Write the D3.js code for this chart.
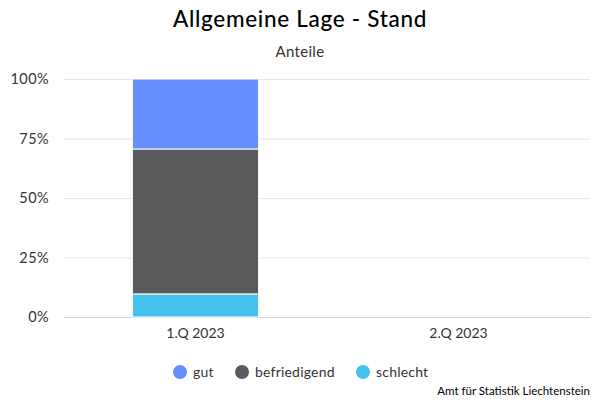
<!DOCTYPE html>
<html><head><meta charset="utf-8">
<script src="https://cdn.jsdelivr.net/npm/d3@7"></script>
<style>body{margin:0;background:#fff}svg{font-family:Lato,sans-serif}</style>
</head><body><svg id="c" width="600" height="400"></svg>
<script>
const categories = ["1.Q 2023", "2.Q 2023"];
const seriesNames = ["gut", "befriedigend", "schlecht"];
const gut = [29.4, null];
const befriedigend = [60.9, null];
const schlecht = [9.7, null];
const yTicks = [0, 25, 50, 75, 100];
const colors = {gut: "#658ffe", befriedigend: "#5a5a5c", schlecht: "#45c3ef"};

const svg = d3.select("#c");
const m = {l: 64, r: 590, t: 79, b: 317};
const x = d3.scaleBand().domain(categories).range([m.l, m.r]).paddingInner(0.52).paddingOuter(0.26);
const y = d3.scaleLinear().domain([0, 100]).range([m.b, m.t]);

svg.append("text").attr("x", 300).attr("y", 27).attr("text-anchor", "middle")
  .attr("font-size", 22.5).attr("font-weight", 500).attr("letter-spacing", 0.7).attr("fill", "#000").text("Allgemeine Lage - Stand");
svg.append("text").attr("x", 300).attr("y", 57).attr("text-anchor", "middle")
  .attr("font-size", 15).attr("letter-spacing", 0.3).attr("fill", "#333").text("Anteile");

const yAxis = d3.axisLeft(y).tickValues(yTicks).tickFormat(d => d + "%").tickSize(-(m.r - m.l));
const ga = svg.append("g").attr("transform", `translate(${m.l},0)`).call(yAxis);
ga.select(".domain").remove();
ga.selectAll(".tick line").attr("stroke", "#e6e6e6");
ga.selectAll(".tick text").attr("x", -15).attr("font-size", 14.5).attr("letter-spacing", 0.4).attr("fill", "#333").attr("font-family", "Lato,sans-serif");
ga.selectAll(".tick").filter(d => d === 0).select("line").attr("stroke", "#ccd6eb");

const xAxis = d3.axisBottom(x).tickSize(0);
const gx = svg.append("g").attr("transform", `translate(0,${m.b})`).call(xAxis);
gx.select(".domain").attr("stroke", "#ccd6eb");
gx.selectAll(".tick text").attr("dy", 0).attr("y", 21).attr("font-size", 14).attr("fill", "#333").attr("font-family", "Lato,sans-serif");

const data = categories.map((c, i) => ({cat: c, gut: gut[i], befriedigend: befriedigend[i], schlecht: schlecht[i]}))
  .filter(d => d.gut != null);
const stack = d3.stack().keys(["schlecht", "befriedigend", "gut"]);
const layers = stack(data);
svg.append("g").selectAll("g").data(layers).join("g").attr("fill", d => colors[d.key])
  .selectAll("rect").data(d => d).join("rect")
  .attr("x", d => x(d.data.cat)).attr("width", x.bandwidth())
  .attr("y", d => y(d[1])).attr("height", d => y(d[0]) - y(d[1]))
  .attr("stroke", "#fff").attr("stroke-width", 1);

const legX = [180, 242, 363];
const lg = svg.append("g");
seriesNames.forEach((s, i) => {
  lg.append("circle").attr("cx", legX[i]).attr("cy", 372).attr("r", 7).attr("fill", colors[s]);
  lg.append("text").attr("x", legX[i] + 13).attr("y", 377).attr("font-size", 14).attr("letter-spacing", 0.2).attr("fill", "#333").text(s);
});
svg.append("text").attr("x", 590).attr("y", 395).attr("text-anchor", "end").attr("font-size", 11.5)
  .attr("fill", "#000").text("Amt für Statistik Liechtenstein");
</script></body></html>
